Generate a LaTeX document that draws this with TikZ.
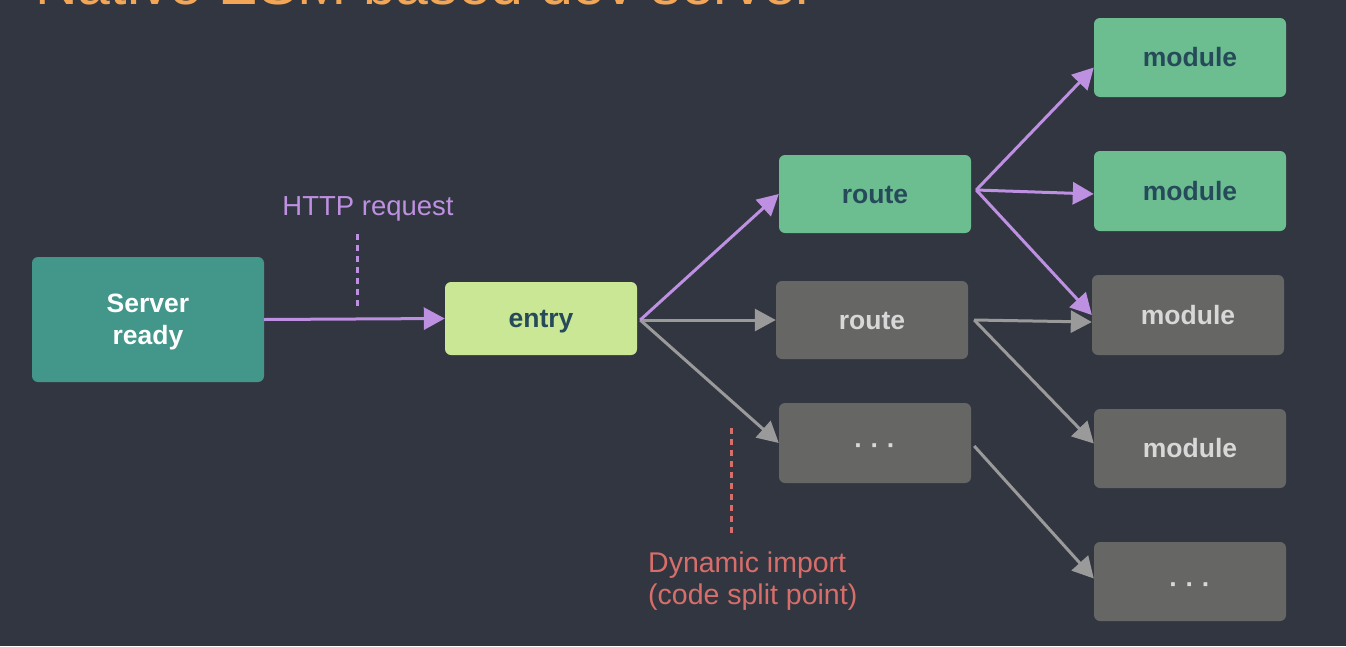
\documentclass[tikz,border=0pt]{standalone}
\usepackage{fontspec}
\setmainfont{Liberation Sans}
\usetikzlibrary{arrows.meta}
\definecolor{bgcol}{RGB}{50,54,64}
\definecolor{tealbox}{RGB}{66,150,138}
\definecolor{entrybox}{RGB}{202,231,150}
\definecolor{greenbox}{RGB}{108,190,145}
\definecolor{graybox}{RGB}{102,102,100}
\definecolor{darktxt}{RGB}{38,74,90}
\definecolor{lighttxt}{RGB}{216,216,216}
\definecolor{lilac}{RGB}{190,144,226}
\definecolor{grayarr}{RGB}{154,154,154}
\definecolor{salmon}{RGB}{216,110,106}
\definecolor{titleorange}{RGB}{242,166,86}
\begin{document}
\begin{tikzpicture}[x=1pt, y=-1pt, line join = round, >={Triangle[length=21pt,width=22pt]},
    font=\fontsize{26}{32}\selectfont]
	\tikzset{box/.style={rounded corners=6pt, inner sep=0pt, minimum width=192pt, minimum height=79pt, font=\fontsize{26.5}{32}\selectfont\bfseries, align=center},
		word/.style={text height=24pt, text depth=6pt},
		dots/.style={text height=23pt, text depth=0pt},
		live/.style={box, word, fill=greenbox, text=darktxt},
		idle/.style={box, word, fill=graybox, text=lighttxt},
		arr/.style={->, line width=3pt}}
	\fill[bgcol] (0,0) rectangle (1346,646);
	\clip (0,0) rectangle (1346,646);
	\node[anchor=base west, inner sep=0pt, text=titleorange, font=\fontsize{59}{62}\selectfont] (title) at (35,4) {Native ESM based dev server};
	\node[box, fill=tealbox, text=white, text depth=0pt, minimum width=232pt, minimum height=125pt] (srv) at (148,319.5) {Server\\ready};
	\node[box, word, fill=entrybox, text=darktxt, minimum height=73pt] (entry) at (541,318.5) {entry};
	\node[live, minimum height=78pt] (rtA) at (875,194) {route};
	\node[idle, minimum height=78pt] (rtB) at (872,320) {route};
	\node[idle, dots, minimum height=80pt] (etcA) at (875,443) {·\ ·\ ·};
	\node[live] (modA) at (1190,57.5) {module};
	\node[live, minimum height=80pt] (modB) at (1190,191) {module};
	\node[idle, minimum height=80pt] (modC) at (1188,315) {module};
	\node[idle] (modD) at (1190,448.5) {module};
	\node[idle, dots] (etcB) at (1190,581.5) {·\ ·\ ·};
	\node[anchor=base, inner sep=0pt, text=lilac, font=\fontsize{27.5}{32}\selectfont] (http) at (368,215) {HTTP request};
	\node[anchor=base west, inner sep=0pt, align=left, text=salmon, font=\fontsize{28.5}{32}\selectfont] (split) at (648,604) {Dynamic import\\(code split point)};
	\path (357,234) coordinate (h1) (357,306) coordinate (h2)
	(731,428) coordinate (s1) (731,533) coordinate (s2);
	\draw[lilac, line width=3pt, dash pattern=on 6pt off 5pt] (h1) -- (h2);
	\draw[salmon, line width=3pt, dash pattern=on 6pt off 5pt] (s1) -- (s2);
	\foreach \a/\sa/\b/\sb/\c in {entry/{3pt,-1.5pt}/rtB/{0pt,0pt}/grayarr,
		entry/{3pt,-1.5pt}/etcA/{0pt,0pt}/grayarr,
		rtB/{6pt,0pt}/modC/{0pt,-7pt}/grayarr,
		rtB/{6pt,0pt}/modD/{0pt,5pt}/grayarr,
		etcA/{3pt,-3pt}/etcB/{0pt,3pt}/grayarr,
		srv/{0pt,0pt}/entry/{0pt,0pt}/lilac,
		entry/{3pt,-1.5pt}/rtA/{0pt,0pt}/lilac,
		rtA/{5pt,4pt}/modA/{0pt,-10pt}/lilac,
		rtA/{5pt,4pt}/modB/{0pt,-3pt}/lilac,
		rtA/{5pt,4pt}/modC/{0pt,0pt}/lilac}
	\draw[arr, \c] ([shift={(\sa)}]\a.east) -- ([shift={(\sb)}]\b.west);
\end{tikzpicture}
\end{document}
